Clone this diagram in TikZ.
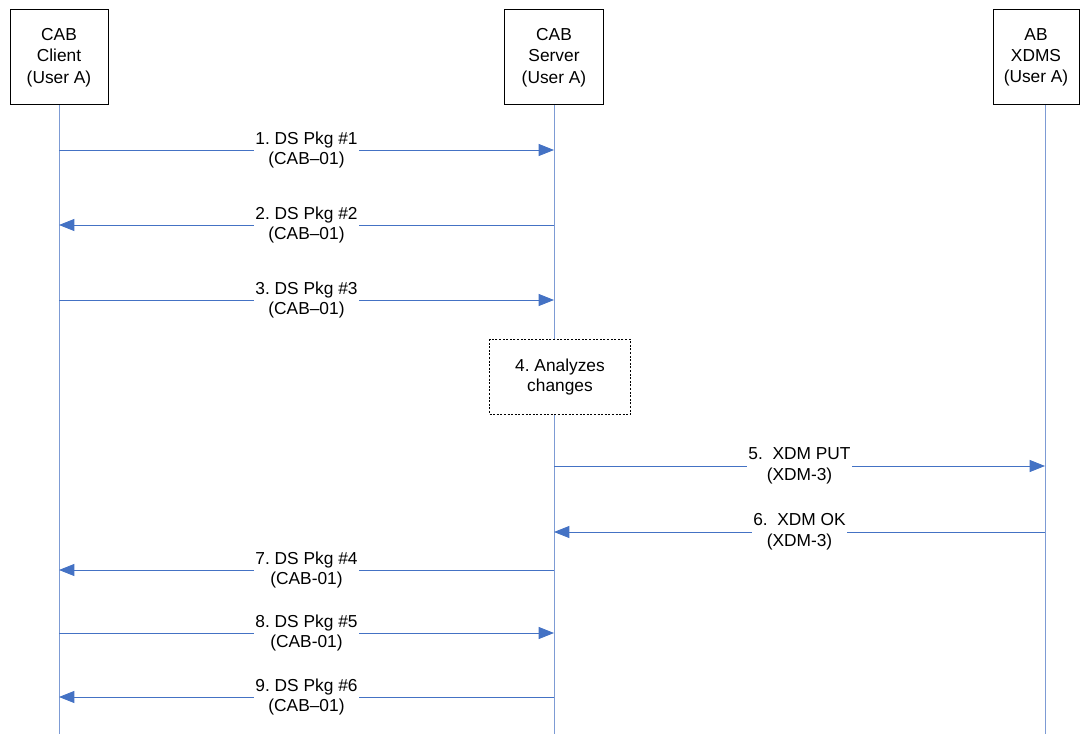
\documentclass[tikz,border=0pt]{standalone}
\usepackage{fontspec}
\setmainfont{Liberation Sans}
\usetikzlibrary{arrows.meta, positioning}
\definecolor{msgblue}{RGB}{68,114,196}
\definecolor{lifeblue}{RGB}{125,155,212}
\frenchspacing

\tikzset{
  actor/.style={draw, line width=0.75pt, align=center, inner sep=0pt,
    minimum height=71.25pt, font=\fontsize{13}{16}\selectfont},
  lifeline/.style={lifeblue, line width=0.75pt},
  msg/.style={msgblue, line width=0.6pt, -{Triangle[length=11.5pt,width=9pt]}},
  msglabel/.style={fill=white, align=center, inner sep=1pt,
    font=\fontsize{13}{15.5}\selectfont, text=black},
  actionbox/.style={draw, dash pattern=on 1.5pt off 1.2pt, line width=0.9pt,
    fill=white, align=center,
    minimum width=105.75pt, minimum height=56.25pt,
    font=\fontsize{13}{15.5}\selectfont},
}

\begin{document}
\begin{tikzpicture}[x=0.75pt, y=-0.75pt]
\useasboundingbox (0,0) rectangle (1081,734);

% parties
\node[actor, minimum width=73.5pt] (client) at (59,57.5) {CAB\\Client\\(User A)};
\node[actor, minimum width=74.25pt] (server) at (554,57.5) {CAB\\Server\\(User A)};
\node[actor, minimum width=64.5pt] (xdms) at (1036,57.5) {AB\\XDMS\\(User A)};
\coordinate (xdmstop) at (1045,105.5);

% lifelines
\draw[lifeline] (client.south) -- (client.south |- 0,734);
\draw[lifeline] (server.south) -- (server.south |- 0,734);
\draw[lifeline] (xdmstop) -- (xdmstop |- 0,734);

% step 4
\node[actionbox] (analyze) at (560,377) {4. Analyzes\\changes};

% messages
\foreach \n/\y/\a/\b/\txt in {
    1/150/client/server/{1. DS Pkg \#1\\(CAB--01)},
    2/225/server/client/{2. DS Pkg \#2\\(CAB--01)},
    3/300/client/server/{3. DS Pkg \#3\\(CAB--01)},
    5/466/server/xdmstop/{5.~~XDM PUT\\(XDM-3)},
    6/532/xdmstop/server/{6.~~XDM OK\\(XDM-3)},
    7/570/server/client/{7. DS Pkg \#4\\(CAB-01)},
    8/633/client/server/{8. DS Pkg \#5\\(CAB-01)},
    9/697/server/client/{9. DS Pkg \#6\\(CAB--01)}} {
  \coordinate (from\n) at (\a |- 0,\y);
  \coordinate (to\n) at (\b |- 0,\y);
  \draw[msg] (from\n) -- node[msglabel] {\txt} (to\n);
}
\end{tikzpicture}
\end{document}
